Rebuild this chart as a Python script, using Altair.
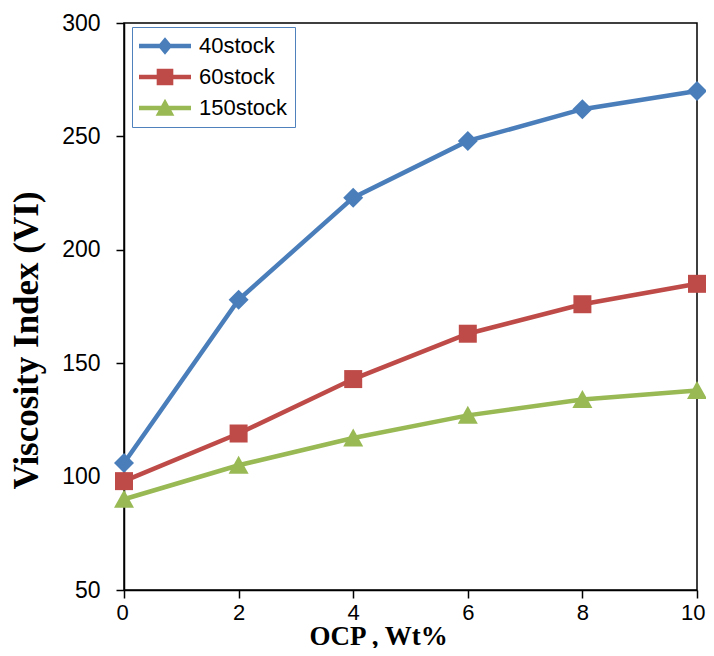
import altair as alt
import pandas as pd

wt = [0, 2, 4, 6, 8, 10]
series = ["40stock", "60stock", "150stock"]
vi_40 = [106, 178, 223, 248, 262, 270]
vi_60 = [98, 119, 143, 163, 176, 185]
vi_150 = [90, 105, 117, 127, 134, 138]
y_ticks = [50, 100, 150, 200, 250, 300]
colors = ["#4A7EBB", "#BE4B48", "#98B954"]

rows = []
for name, vals in zip(series, [vi_40, vi_60, vi_150]):
    for x, v in zip(wt, vals):
        rows.append({"OCP": x, "VI": v, "series": name})
df = pd.DataFrame(rows)

plot_shapes = [
    "M-1,0L0,-1L1,0L0,1Z",
    "M-0.9,-0.9H0.9V0.9H-0.9Z",
    "M0,-0.95L1,0.85L-1,0.85Z",
]
bar = "M-1,-0.085H1V0.085H-1Z"
legend_shapes = [
    bar + "M-0.28,0L0,-0.34L0.28,0L0,0.34Z",
    bar + "M-0.32,-0.32H0.32V0.32H-0.32Z",
    bar + "M0,-0.36L0.36,0.3L-0.36,0.3Z",
]

x_enc = alt.X(
    "OCP:Q",
    scale=alt.Scale(domain=[0, 10], nice=False, zero=False),
    axis=alt.Axis(
        values=wt, title="OCP , Wt%", titleFont="Liberation Serif", titleFontSize=27,
        titleFontWeight="bold", titleColor="black", titleX=254, titleY=54,
        titleBaseline="alphabetic", titleAlign="center",
        labelFont="Liberation Sans", labelFontSize=22, labelColor="black",
        labelPadding=4, labelFlush=True, labelFlushOffset=8, labelOverlap=False,
        tickSize=8, tickWidth=1.5, tickColor="black",
        domainColor="black", domainWidth=1.5, grid=False,
    ),
)
y_enc = alt.Y(
    "VI:Q",
    scale=alt.Scale(domain=[50, 300], nice=False, zero=False),
    axis=alt.Axis(
        values=y_ticks, title="Viscosity Index (VI)", titleFont="Liberation Serif",
        titleFontSize=35, titleFontWeight="bold", titleColor="black",
        titleX=-80, titleY=317, titleAlign="center", titleBaseline="bottom", titleAngle=270,
        labelFont="Liberation Sans", labelFontSize=23, labelColor="black",
        labelPadding=16, labelFlush=False, labelOverlap=False,
        tickSize=8, tickWidth=1.5, tickColor="black",
        domainColor="black", domainWidth=1.5, grid=False,
    ),
)

color_scale = alt.Scale(domain=series, range=colors)

base = alt.Chart(df).encode(
    x=x_enc, y=y_enc,
    color=alt.Color("series:N", scale=color_scale, legend=None),
)

lines = base.mark_line(strokeWidth=4.5)
points = base.mark_point(filled=True, size=400, opacity=1, strokeWidth=0).encode(
    shape=alt.Shape("series:N", scale=alt.Scale(domain=series, range=plot_shapes), legend=None)
)

leg_kwargs = dict(
    title=None, orient="none", legendX=8, legendY=4,
    strokeColor="#4F81BD", fillColor="white", padding=7,
    symbolSize=2704, symbolOpacity=1, symbolStrokeWidth=0,
    clipHeight=24, rowPadding=7, labelOffset=8,
    labelFont="Liberation Sans", labelFontSize=22, labelColor="black",
    labelBaseline="middle", labelLimit=300,
    labelExpr="datum.label + '             '",
)
legend_layer = base.mark_point(filled=True, size=400, opacity=0, strokeWidth=0).encode(
    color=alt.Color("series:N", scale=color_scale, legend=alt.Legend(**leg_kwargs)),
    shape=alt.Shape("series:N", scale=alt.Scale(domain=series, range=legend_shapes),
                    legend=alt.Legend(**leg_kwargs)),
)

chart = (
    alt.layer(lines, points, legend_layer)
    .resolve_scale(shape="independent", color="independent")
    .properties(
        width=573, height=567,
        autosize=alt.AutoSizeParams(type="none"),
        padding={"left": 116, "top": 15, "right": 9, "bottom": 58},
        background="white",
    )
    .configure_view(stroke="black", strokeWidth=1.5)
)

chart.save("out.html", embed_options={"renderer": "svg", "actions": False})
